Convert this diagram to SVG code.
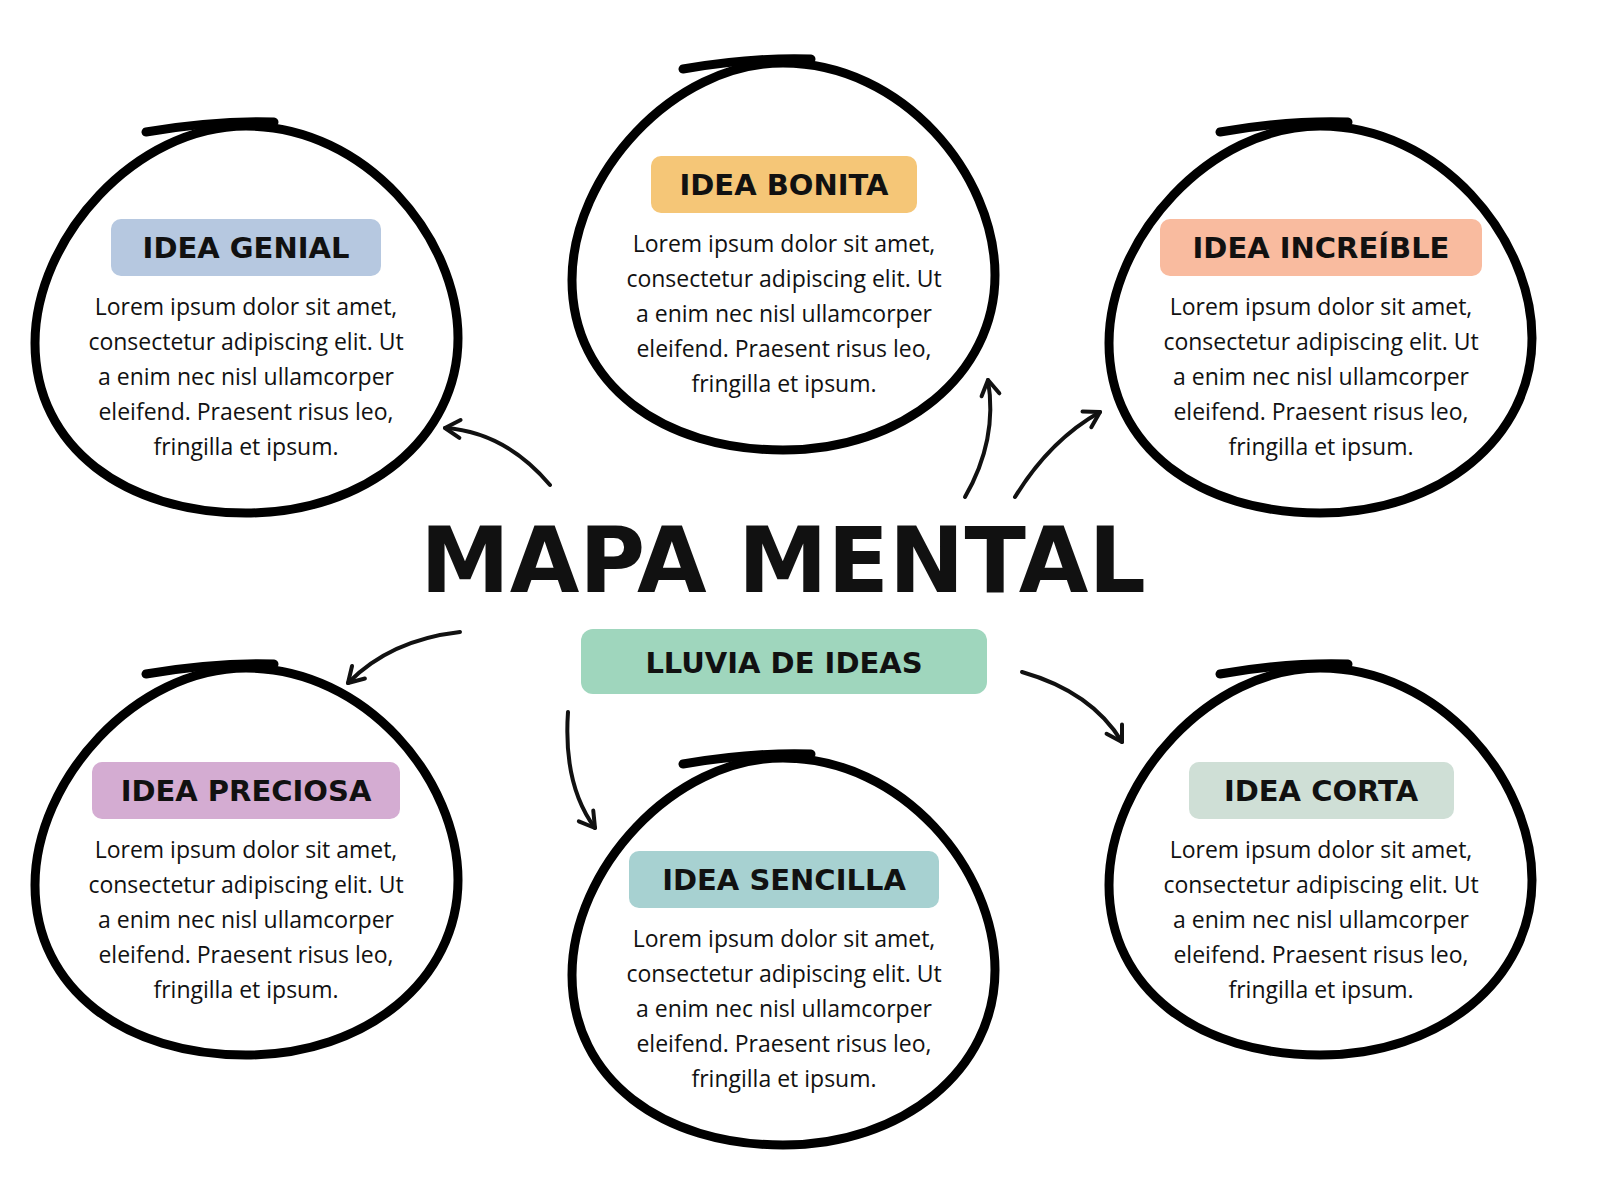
<svg xmlns="http://www.w3.org/2000/svg" width="1600" height="1200" viewBox="0 0 1600 1200">
<defs>
<style>
.ring{fill:none;stroke:#000;stroke-width:9;stroke-linecap:round}
.con{fill:none;stroke:#111;stroke-width:4;stroke-linecap:round}
.lab{font-family:"DejaVu Sans",sans-serif;font-weight:bold;font-size:29px;text-anchor:middle;fill:#111}
.body{font-family:"Open Sans","Liberation Sans",sans-serif;font-size:23px;text-anchor:middle;fill:#111}
</style>
<marker id="ah" viewBox="0 0 24 24" refX="20" refY="12" markerWidth="24" markerHeight="24" orient="auto" markerUnits="userSpaceOnUse">
<path d="M5,3 L20,12 L5,21" fill="none" stroke="#111" stroke-width="4" stroke-linecap="round" stroke-linejoin="round"/>
</marker>
<g id="blob">
<path class="ring" d="M0,-192 C120,-192 212,-80 212,20 C212,120 120,195 0,195 C-120,195 -211,130 -211,25 C-211,-80 -110,-192 0,-192 Z"/>
<path class="ring" d="M-100,-186 Q-30,-198 28,-196"/>
</g>
<g id="txt" class="body">
<text x="0" y="-3">Lorem ipsum dolor sit amet,</text>
<text x="0" y="32">consectetur adipiscing elit. Ut</text>
<text x="0" y="67">a enim nec nisl ullamcorper</text>
<text x="0" y="102">eleifend. Praesent risus leo,</text>
<text x="0" y="137">fringilla et ipsum.</text>
</g>
</defs>
<rect width="1600" height="1200" fill="#fff"/>
<g id="n1"><use href="#blob" x="246" y="318"/><rect x="111" y="219" width="270" height="57" rx="10" fill="#b6c8e0"/><text class="lab" x="246" y="258">IDEA GENIAL</text><use href="#txt" x="246" y="318"/></g>
<g id="n2"><use href="#blob" x="783" y="255"/><rect x="651" y="156" width="266" height="57" rx="10" fill="#f5c677"/><text class="lab" x="784" y="195">IDEA BONITA</text><use href="#txt" x="784" y="255"/></g>
<g id="n3"><use href="#blob" x="1320" y="318"/><rect x="1160" y="219" width="322" height="57" rx="10" fill="#f9bb9f"/><text class="lab" x="1321" y="258">IDEA INCREÍBLE</text><use href="#txt" x="1321" y="318"/></g>
<g id="n4"><use href="#blob" x="246" y="860"/><rect x="92" y="762" width="308" height="57" rx="10" fill="#d4acd2"/><text class="lab" x="246" y="801">IDEA PRECIOSA</text><use href="#txt" x="246" y="861"/></g>
<g id="n5"><use href="#blob" x="783" y="950"/><rect x="629" y="851" width="310" height="57" rx="10" fill="#a7d1d1"/><text class="lab" x="784" y="890">IDEA SENCILLA</text><use href="#txt" x="784" y="950"/></g>
<g id="n6"><use href="#blob" x="1320" y="860"/><rect x="1189" y="762" width="265" height="57" rx="10" fill="#cfdfd6"/><text class="lab" x="1321" y="801">IDEA CORTA</text><use href="#txt" x="1321" y="861"/></g>
<g id="center">
<text x="783" y="592" font-family="DejaVu Sans,sans-serif" font-weight="bold" font-size="90" text-anchor="middle" fill="#111">MAPA MENTAL</text>
<rect x="581" y="629" width="406" height="65" rx="12" fill="#9fd6bd"/>
<text class="lab" x="784" y="673" font-size="33">LLUVIA DE IDEAS</text>
</g>
<g id="connectors">
<path class="con" marker-end="url(#ah)" d="M550,485 Q505,432 445,428"/>
<path class="con" marker-end="url(#ah)" d="M965,497 Q998,440 988,380"/>
<path class="con" marker-end="url(#ah)" d="M1015,497 Q1050,440 1100,412"/>
<path class="con" marker-end="url(#ah)" d="M460,632 Q390,640 348,683"/>
<path class="con" marker-end="url(#ah)" d="M568,712 Q563,785 595,828"/>
<path class="con" marker-end="url(#ah)" d="M1022,672 Q1092,692 1122,742"/>
</g>
</svg>
